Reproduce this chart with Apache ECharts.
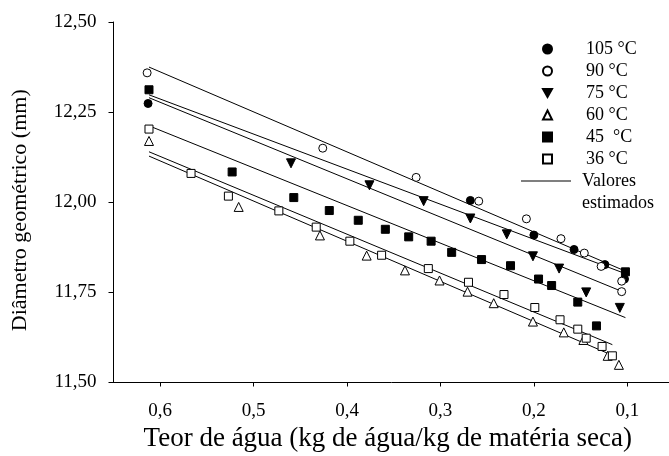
<!DOCTYPE html>
<html>
<head>
<meta charset="utf-8">
<title>Diâmetro geométrico x teor de água</title>
<script src="https://cdn.jsdelivr.net/npm/echarts@6/dist/echarts.min.js"></script>
<style>
html, body { margin: 0; padding: 0; background: #fff; }
#chart { width: 669px; height: 456px; }
</style>
</head>
<body>
<div id="chart"></div>
<script>
// temperaturas de secagem (legenda)
const seriesNames = ['105 °C', '90 °C', '75 °C', '60 °C', '45  °C', '36 °C']

// teor de água (kg/kg m.s.) e diâmetro geométrico (mm) observados
const x105 = [0.613, 0.268, 0.200, 0.157, 0.124, 0.103]
const y105 = [12.274, 12.005, 11.909, 11.869, 11.827, 11.787]

const x90 = [0.614, 0.426, 0.326, 0.259, 0.208, 0.171, 0.146, 0.128, 0.106, 0.106]
const y90 = [12.359, 12.150, 12.069, 12.003, 11.954, 11.899, 11.859, 11.822, 11.781, 11.752]

const x75 = [0.460, 0.376, 0.318, 0.268, 0.229, 0.201, 0.173, 0.144, 0.108]
const y75 = [12.108, 12.047, 12.003, 11.955, 11.911, 11.850, 11.816, 11.750, 11.707]

const x60 = [0.612, 0.516, 0.429, 0.379, 0.338, 0.301, 0.271, 0.243, 0.201, 0.168, 0.147, 0.121, 0.109]
const y60 = [12.170, 11.987, 11.908, 11.852, 11.811, 11.783, 11.752, 11.720, 11.669, 11.639, 11.618, 11.574, 11.549]

const x45 = [0.612, 0.523, 0.457, 0.419, 0.388, 0.359, 0.334, 0.310, 0.288, 0.256, 0.225, 0.195, 0.181, 0.153, 0.133, 0.102]
const y45 = [12.312, 12.084, 12.013, 11.977, 11.950, 11.925, 11.904, 11.892, 11.861, 11.841, 11.824, 11.787, 11.769, 11.723, 11.657, 11.807]

const x36 = [0.612, 0.567, 0.527, 0.473, 0.433, 0.397, 0.363, 0.313, 0.270, 0.232, 0.199, 0.172, 0.153, 0.144, 0.127, 0.116]
const y36 = [12.203, 12.080, 12.017, 11.976, 11.931, 11.892, 11.853, 11.816, 11.778, 11.744, 11.708, 11.674, 11.648, 11.623, 11.600, 11.574]

// valores estimados (retas): inicio e fim de cada temperatura, mesma ordem da legenda
const estX0 = [0.612, 0.612, 0.612, 0.612, 0.612, 0.612]
const estY0 = [12.298, 12.375, 12.290, 12.128, 12.212, 12.140]
const estX1 = [0.100, 0.103, 0.108, 0.120, 0.102, 0.116]
const estY1 = [11.800, 11.810, 11.755, 11.580, 11.680, 11.605]

// ticks
const xTicks = [0.1, 0.2, 0.3, 0.4, 0.5, 0.6]

const obsX = [x105, x90, x75, x60, x45, x36]
const obsY = [y105, y90, y75, y60, y45, y36]

const FONT = "'Liberation Serif', 'Times New Roman', serif"
const downTri = 'path://M0,0L10,0L5,9Z'
const symbols = ['circle', 'circle', downTri, 'triangle', 'rect', 'rect']
const sizes = [8, 8, 9, 9, 8, 8]
const filled = [true, false, true, false, true, false]

const chart = echarts.init(document.getElementById('chart'), null, { renderer: 'canvas' })

const series = []
// retas estimadas
for (let i = 0; i < seriesNames.length; i++) {
  series.push({
    name: 'Valores estimados',
    type: 'line',
    data: [[estX0[i], estY0[i]], [estX1[i], estY1[i]]],
    symbol: 'none',
    showSymbol: false,
    silent: true,
    z: 2,
    lineStyle: { color: '#000', width: 1 },
    itemStyle: { color: '#000' }
  })
}
// pontos observados
for (let i = 0; i < seriesNames.length; i++) {
  series.push({
    name: seriesNames[i],
    type: 'scatter',
    data: obsX[i].map((x, j) => [x, obsY[i][j]]),
    symbol: symbols[i],
    symbolSize: sizes[i],
    z: 3,
    itemStyle: {
      color: filled[i] ? '#000' : '#fff',
      borderColor: '#000',
      borderWidth: 1,
      opacity: 1
    }
  })
}

const option = {
  animation: false,
  backgroundColor: '#fff',
  textStyle: { fontFamily: FONT },
  grid: {
    left: 113.5,
    right: -5,
    top: 22,
    bottom: 73.5,
    containLabel: false,
    outerBoundsMode: 'none'
  },
  legend: [
    {
      data: seriesNames,
      orient: 'vertical',
      left: 537,
      top: 33,
      itemWidth: 9,
      itemHeight: 9,
      itemGap: 0,
      selectedMode: false,
      textStyle: {
        fontFamily: FONT,
        fontSize: 18,
        color: '#000',
        lineHeight: 22,
        padding: [0, 0, 0, 29]
      }
    },
    {
      data: ['Valores estimados'],
      orient: 'vertical',
      left: 516,
      top: 143,
      itemWidth: 50,
      itemHeight: 9,
      icon: 'path://M0,0L50,0L50,1L0,1Z',
      selectedMode: false,
      // linha em branco no topo para alinhar "Valores" com o traço
      formatter: () => ' \nValores\nestimados',
      textStyle: {
        fontFamily: FONT,
        fontSize: 18,
        color: '#000',
        lineHeight: 22,
        padding: [0, 0, 0, 6]
      }
    }
  ],
  xAxis: {
    type: 'value',
    inverse: true,
    min: 0.05,
    max: 0.65,
    name: 'Teor de água (kg de água/kg de matéria seca)',
    nameLocation: 'middle',
    nameGap: 43,
    nameTextStyle: { fontFamily: FONT, fontSize: 27, color: '#000', padding: [0, 12, 0, 0] },
    axisLine: { show: true, onZero: false, lineStyle: { color: '#000', width: 1 } },
    axisTick: { show: true, length: 4, customValues: xTicks, lineStyle: { color: '#000' } },
    axisLabel: {
      customValues: xTicks,
      margin: 19,
      fontFamily: FONT,
      fontSize: 19,
      color: '#000',
      formatter: (v) => v.toFixed(1).replace('.', ',')
    },
    splitLine: { show: false }
  },
  yAxis: {
    type: 'value',
    min: 11.5,
    max: 12.5,
    interval: 0.25,
    name: 'Diâmetro geométrico (mm)',
    nameLocation: 'middle',
    nameGap: 82,
    nameTextStyle: { fontFamily: FONT, fontSize: 22, color: '#000', padding: [0, 16, 0, 0] },
    axisLine: { show: true, onZero: false, lineStyle: { color: '#000', width: 1 } },
    axisTick: { show: true, length: 5, lineStyle: { color: '#000' } },
    axisLabel: {
      margin: 17,
      fontFamily: FONT,
      fontSize: 19,
      color: '#000',
      formatter: (v) => v.toFixed(2).replace('.', ',')
    },
    splitLine: { show: false }
  },
  series: series
}

chart.setOption(option)
</script>
</body>
</html>
